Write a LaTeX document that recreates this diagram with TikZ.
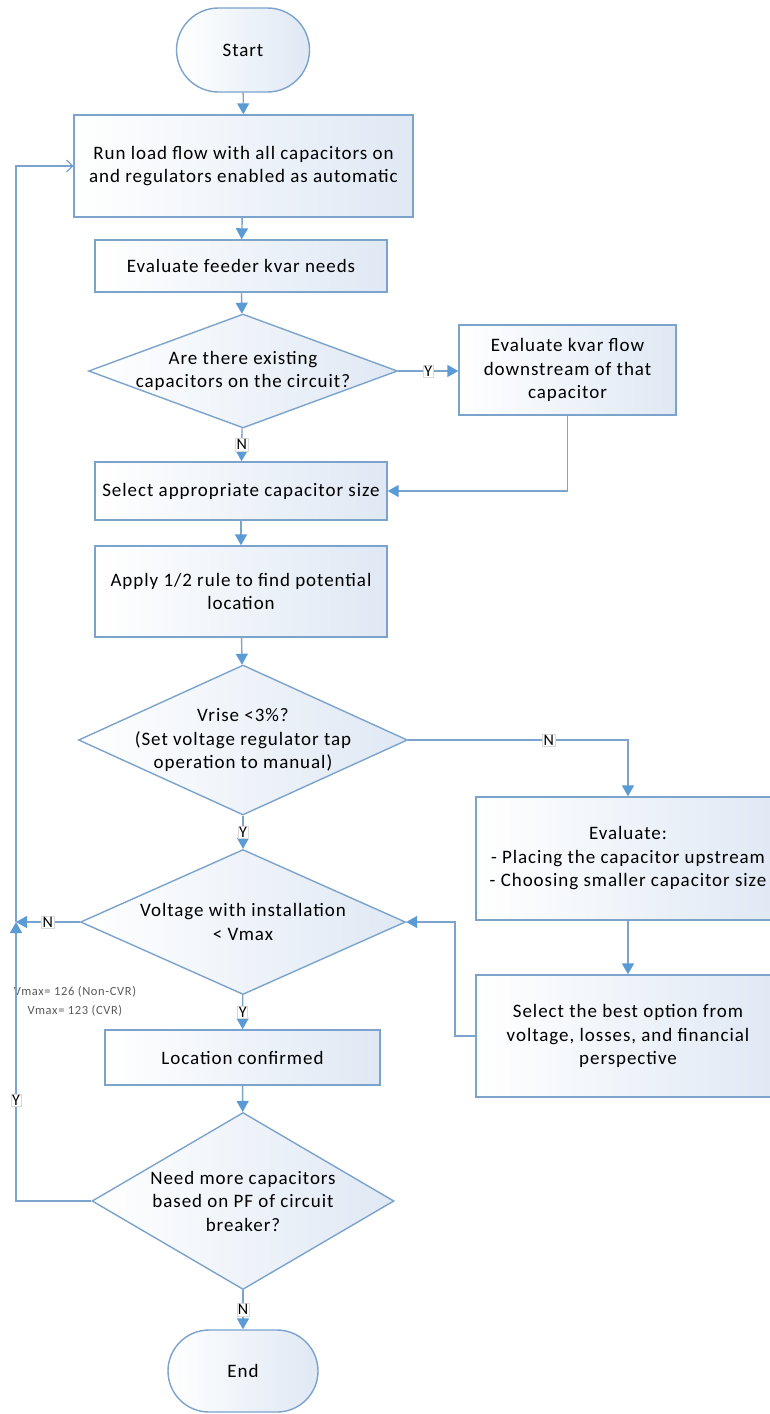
\documentclass[tikz,border=0pt]{standalone}
\usepackage{fontspec}
\setmainfont{Carlito}[LetterSpace=5]
\usetikzlibrary{shapes.geometric,shapes.misc,arrows.meta}
\definecolor{edgec}{HTML}{7BA3CC}
\definecolor{arrc}{HTML}{5B9BD5}
\definecolor{fillb}{HTML}{DFE8F4}
\definecolor{notec}{HTML}{595959}
\tikzset{
  shapebase/.style={draw=edgec, line width=1.4pt, left color=white, right color=fillb, inner sep=0pt},
  box/.style={shapebase, rectangle, align=center, font=\fontsize{19}{23.5}\selectfont},
  term/.style={shapebase, rounded rectangle, align=center, font=\fontsize{19}{23.5}\selectfont},
  dia/.style={shapebase, diamond},
  dtext/.style={align=center, font=\fontsize{19}{23.5}\selectfont},
  lab/.style={fill=white, draw=gray!30, line width=0.6pt, font=\fontsize{16}{16}\selectfont, inner sep=1pt},
  note/.style={align=center, text=notec, font=\fontsize{12.5}{19}\selectfont},
  conn/.style={draw=edgec, line width=1.4pt, -{Triangle[length=11pt,width=12pt,color=arrc]}},
  connopen/.style={draw=edgec, line width=1.4pt, -{Straight Barb[length=6pt,width=12pt,line width=1pt,color=arrc]}}
}
\begin{document}
\begin{tikzpicture}[x=1pt,y=-1pt]
\useasboundingbox (0,0) rectangle (770,1414);
\node[term, minimum width=133pt, minimum height=84pt] (start) at (243,50) {Start};
\node[box, minimum width=339pt, minimum height=102pt] (b1) at (243.5,166) {Run load flow with all capacitors on\\and regulators enabled as automatic};
\node[box, minimum width=292pt, minimum height=52pt] (b2) at (241,266) {Evaluate feeder kvar needs};
\node[dia, minimum width=309pt, minimum height=114pt] (d1) at (243,371) {};
\node[dtext] (d1t) at (d1) {Are there existing\\capacitors on the circuit?};
\node[box, minimum width=217pt, minimum height=90pt] (b3) at (567.5,370) {Evaluate kvar flow\\downstream of that\\capacitor};
\node[box, minimum width=292pt, minimum height=58pt] (b4) at (241,491) {Select appropriate capacitor size};
\node[box, minimum width=292pt, minimum height=91pt] (b5) at (241,591.5) {Apply 1/2 rule to find potential\\location};
\node[dia, minimum width=329pt, minimum height=150pt] (d2) at (243,740) {};
\node[dtext] (d2t) at (d2) {Vrise <3\%?\\(Set voltage regulator tap\\operation to manual)};
\node[box, minimum width=304pt, minimum height=123pt] (b6) at (628,858.5) {Evaluate:\\- Placing the capacitor upstream\\- Choosing smaller capacitor size};
\node[dia, minimum width=325pt, minimum height=145pt] (d3) at (243,922) {};
\node[dtext] (d3t) at (d3) {Voltage with installation\\< Vmax};
\node[box, minimum width=304pt, minimum height=122pt] (b7) at (628,1036) {Select the best option from\\voltage, losses, and financial\\perspective};
\node[note] (vm) at (75,1001) {Vmax= 126 (Non-CVR)\\Vmax= 123 (CVR)};
\node[box, minimum width=275pt, minimum height=55pt] (b8) at (242.5,1057.5) {Location confirmed};
\node[dia, minimum width=302pt, minimum height=177pt] (d4) at (243,1201) {};
\node[dtext] (d4t) at (d4) {Need more capacitors\\based on PF of circuit\\breaker?};
\node[term, minimum width=150pt, minimum height=82pt] (end) at (243,1371) {End};
\coordinate (L) at (16,922);
\coordinate (jr) at (455,1036);

\draw[conn] (start) -- (b1);
\draw[conn] (b1) -- (b2);
\draw[conn] (b2) -- (d1);
\draw[conn] (d1.east) -- node[lab]{Y} (d1.east -| b3.west);
\draw[conn] (d1) -- node[lab]{N} (b4);
\draw[conn] (b3.south) |- (b4.east);
\draw[conn] (b4) -- (b5);
\draw[conn] (b5) -- (d2);
\draw[conn] (d2.east) -| node[lab, pos=0.32]{N} (b6.north);
\draw[conn] (d2) -- node[lab]{Y} (d3);
\draw[conn] (b6) -- (b7);
\draw[conn] (b7.west) -- (jr) |- (d3.east);
\draw[conn] (d3.west) -- node[lab]{N} (L);
\draw[conn] (d3) -- node[lab]{Y} (b8);
\draw[conn] (b8) -- (d4);
\draw[conn] (d4.west) -| node[lab, pos=0.68]{Y} (L);
\draw[connopen] (L) |- (b1.west);
\draw[conn] (d4) -- node[lab]{N} (end);
\end{tikzpicture}
\end{document}
